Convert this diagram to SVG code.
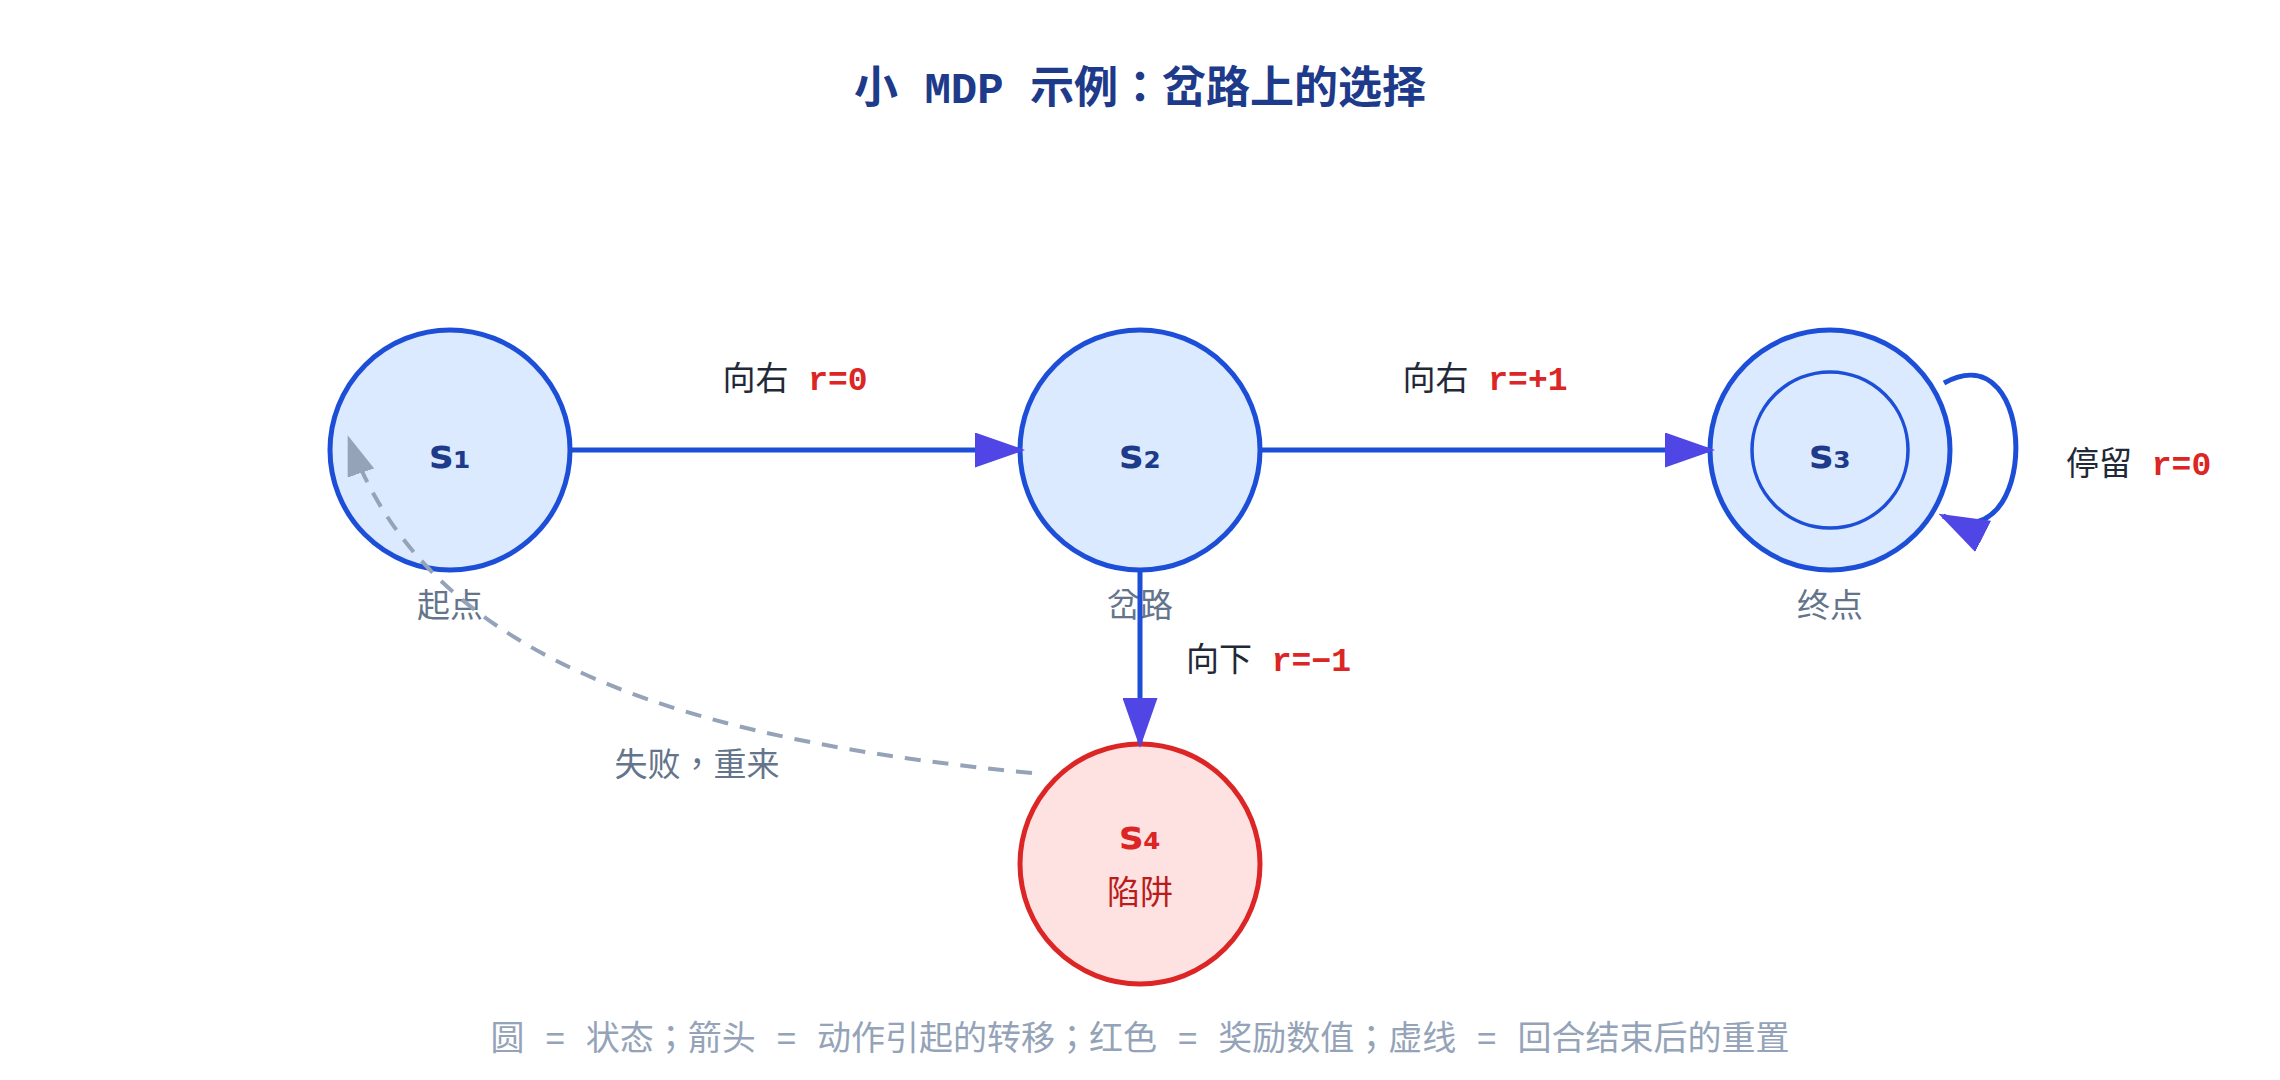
<svg xmlns="http://www.w3.org/2000/svg" width="2280" height="1080" viewBox="0 0 2280 1080">
<defs>
<marker id="arr" markerWidth="10" markerHeight="7" refX="9" refY="3.5" orient="auto" markerUnits="strokeWidth"><path d="M0,0 L10,3.5 L0,7 z" fill="#4f46e5"/></marker>
<marker id="arrg" markerWidth="10" markerHeight="7" refX="9" refY="3.5" orient="auto" markerUnits="strokeWidth"><path d="M0,0 L10,3.5 L0,7 z" fill="#94a3b8"/></marker>
</defs>
<style>
.node{fill:#dbeafe;stroke:#1d4ed8;stroke-width:5}
.inner{fill:none;stroke:#1d4ed8;stroke-width:3.5}
.trap{fill:#fee2e2;stroke:#dc2626;stroke-width:5}
.nlabel{font-family:'DejaVu Sans',sans-serif;font-weight:bold;font-size:40px;fill:#1e3a8a;text-anchor:middle}
.sub{font-family:'Liberation Mono','Noto Sans CJK TC',monospace;font-size:33px;fill:#64748b;text-anchor:middle}
.edge{stroke:#1d4ed8;stroke-width:5;fill:none}
.reset{stroke:#94a3b8;stroke-width:4;fill:none;stroke-dasharray:16 12}
.elabel{font-family:'Liberation Mono','Noto Sans CJK TC',monospace;font-size:33px;fill:#1f2937}
.rew{font-weight:bold;fill:#dc2626}
.title{font-family:'Liberation Mono','Noto Sans CJK TC',monospace;font-size:44px;font-weight:bold;fill:#1e3a8a;text-anchor:middle}
.legend{font-family:'Liberation Mono','Noto Sans CJK TC',monospace;font-size:34px;fill:#94a3b8;text-anchor:middle}
</style>
<rect width="2280" height="1080" fill="#ffffff"/>
<text class="title" x="1140" y="103">小 MDP 示例：岔路上的选择</text>

<g id="s1">
<circle class="node" cx="450" cy="450" r="120"/>
<text class="nlabel" x="450" y="468">s₁</text>
<text class="sub" x="450" y="617">起点</text>
</g>
<g id="s2">
<circle class="node" cx="1140" cy="450" r="120"/>
<text class="nlabel" x="1140" y="468">s₂</text>
<text class="sub" x="1140" y="617">岔路</text>
</g>
<g id="s3">
<circle class="node" cx="1830" cy="450" r="120"/>
<circle class="inner" cx="1830" cy="450" r="78"/>
<text class="nlabel" x="1830" y="468">s₃</text>
<text class="sub" x="1830" y="617">终点</text>
</g>
<g id="s4">
<circle class="trap" cx="1140" cy="864" r="120"/>
<text class="nlabel" x="1140" y="849" style="fill:#dc2626">s₄</text>
<text class="sub" x="1140" y="904" style="fill:#b91c1c">陷阱</text>
</g>

<g id="connectors">
<line class="edge" x1="570" y1="450" x2="1020" y2="450" marker-end="url(#arr)"/>
<line class="edge" x1="1260" y1="450" x2="1710" y2="450" marker-end="url(#arr)"/>
<line class="edge" x1="1140" y1="570" x2="1140" y2="743" marker-end="url(#arr)"/>
<path class="edge" d="M1944,383 C2040,330 2040,565 1943,516" marker-end="url(#arr)"/>
<path class="reset" d="M1032,773 C710,742 430,670 349,439" marker-end="url(#arrg)"/>
<text class="elabel" x="795" y="390" text-anchor="middle">向右 <tspan class="rew">r=0</tspan></text>
<text class="elabel" x="1485" y="390" text-anchor="middle">向右 <tspan class="rew">r=+1</tspan></text>
<text class="elabel" x="1186" y="671">向下 <tspan class="rew">r=−1</tspan></text>
<text class="elabel" x="2066" y="475">停留 <tspan class="rew">r=0</tspan></text>
<text class="sub" x="697" y="776">失败，重来</text>
</g>

<text class="legend" x="1140" y="1050">圆 = 状态；箭头 = 动作引起的转移；红色 = 奖励数值；虚线 = 回合结束后的重置</text>
</svg>
